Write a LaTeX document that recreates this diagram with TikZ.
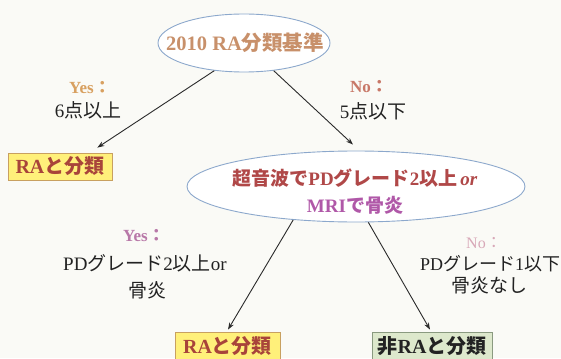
\documentclass[tikz,border=0pt]{standalone}
\usepackage{fontspec}
\setmainfont{Liberation Serif}
\newfontfamily\jp{Noto Sans CJK JP}
\usetikzlibrary{calc,arrows.meta,shapes.geometric}
\newcommand\J[1]{{\jp #1}}
\definecolor{bgcol}{HTML}{FAFAF6}
\definecolor{ellline}{HTML}{8CA8CC}
\definecolor{elltxt}{HTML}{C8906A}
\definecolor{boxtxt}{HTML}{A8443A}
\definecolor{yelfill}{HTML}{FFF07A}
\definecolor{yelline}{HTML}{C8A060}
\definecolor{grnfill}{HTML}{DDE8CC}
\definecolor{grnline}{HTML}{8A9A80}
\definecolor{yescol}{HTML}{D8A060}
\definecolor{nocol}{HTML}{C87868}
\definecolor{redtxt}{HTML}{B04848}
\definecolor{purtxt}{HTML}{B058A8}
\definecolor{yes2col}{HTML}{B878A8}
\definecolor{no2col}{HTML}{D8A8B8}
\definecolor{ink}{HTML}{222222}
\definecolor{arrcol}{HTML}{2A2A2A}
\begin{document}
\begin{tikzpicture}[x=1pt,y=-1pt,
  ell/.style={ellipse, draw=ellline, line width=0.9pt, fill=white, inner sep=0pt},
  rabox/.style={rectangle, draw=yelline, line width=0.8pt, fill=yelfill, inner sep=0pt,
    text=boxtxt, font=\bfseries\fontsize{20}{22}\selectfont},
  nonbox/.style={rectangle, draw=grnline, line width=0.8pt, fill=grnfill, inner sep=0pt,
    text=ink, font=\bfseries\fontsize{20}{22}\selectfont},
  lab/.style={inner sep=0pt, text=ink, font=\fontsize{19}{21}\selectfont},
  blab/.style={inner sep=0pt, font=\bfseries\fontsize{17}{19}\selectfont},
  arr/.style={draw=arrcol, line width=0.9pt, -{Stealth[length=7pt,width=5pt]}}
]
\fill[bgcol] (0,0) rectangle (561,358);
\useasboundingbox (0,0) rectangle (561,358);

% top ellipse
\node[ell, minimum width=172pt, minimum height=58pt] (top) at (244,43) {};
\node[inner sep=0pt, text=elltxt, font=\bfseries\fontsize{20.5}{22}\selectfont] (toptxt) at (245,43) {2010 RA\J{分類基準}};

% second ellipse
\node[ell, minimum width=338pt, minimum height=71pt] (mid) at (356,186.5) {};
\node[inner sep=0pt, text=redtxt, font=\bfseries\fontsize{19}{21}\selectfont] (midtxt1) at (355,178) {\J{超音波で}PD\J{グレード}2\J{以上}\,\textit{or}};
\node[inner sep=0pt, text=purtxt, font=\bfseries\fontsize{19}{21}\selectfont] (midtxt2) at (355,205) {MRI\J{で骨炎}};

% boxes
\node[rabox, minimum width=104pt, minimum height=27pt] (b1) at (60,166.5) {RA\J{と分類}};
\node[rabox, minimum width=105pt, minimum height=28pt] (b3) at (227.5,346) {RA\J{と分類}};
\node[nonbox, minimum width=120pt, minimum height=28pt] (b4) at (432,346) {\J{非}RA\J{と分類}};

% labels
\node[blab, text=yescol] (yes1) at (90,88) {Yes\J{：}};
\node[lab] (yes1b) at (88,110) {6\J{点以上}};
\node[blab, text=nocol] (no1) at (369,87) {No\J{：}};
\node[lab] (no1b) at (373,111) {5\J{点以下}};

\node[blab, text=yes2col] (yes2) at (144,236) {Yes\J{：}};
\node[lab] (yes2b) at (145,263) {PD\J{グレード}2\J{以上}or};
\node[lab] (yes2c) at (147,290) {\J{骨炎}};
\node[blab, text=no2col, font=\fontsize{16}{18}\selectfont] (no2) at (484,243) {No\J{：}};
\node[lab, font=\fontsize{18}{20}\selectfont] (no2b) at (490,264) {PD\J{グレード}1\J{以下}};
\node[lab] (no2c) at (489,285) {\J{骨炎なし}};

% connectors
\draw[arr] (top.223) -- ($(b1.north east)+(-15,-5)$);
\draw[arr] (top.317) -- ($(mid.north)+(-3,-6)$);
\draw[arr] (mid.208) -- ($(b3.north)+(0.5,-2)$);
\draw[arr] (mid.289) -- ($(b4.north)+(-2,-2)$);
\end{tikzpicture}
\end{document}
